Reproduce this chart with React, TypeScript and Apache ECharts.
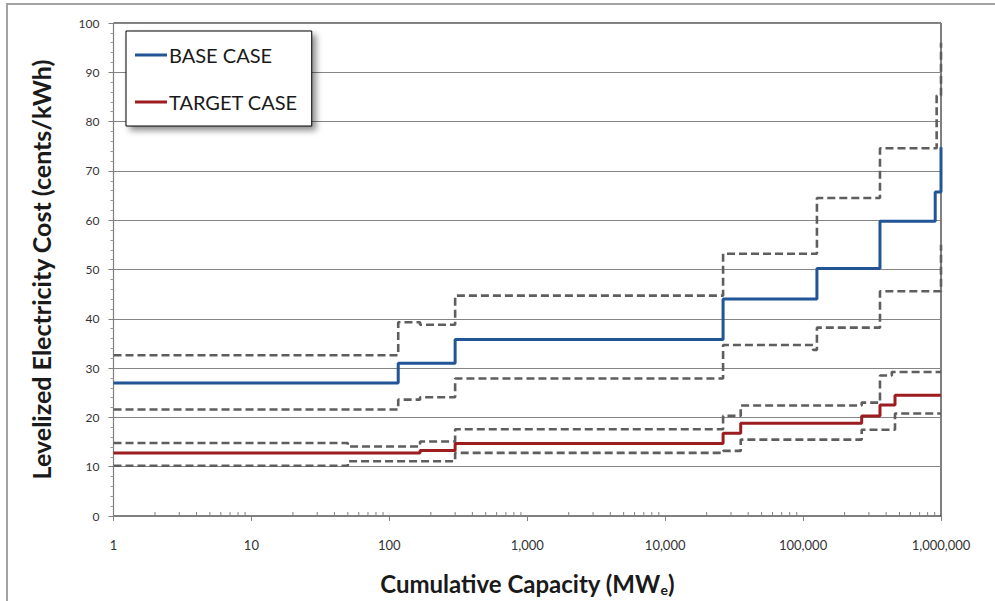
import React, { useEffect, useRef } from "react";
import * as echarts from "echarts";

// Step breakpoints (cumulative MWe) and levelized cost (cents/kWh) for each curve
const baseX = [1, 116, 300, 26300, 126000, 361000, 908000, 1000000];
const baseY = [27, 31, 35.8, 44, 50.2, 59.8, 65.7, 74.8];

const baseUpperX = [1, 116, 167, 300, 26300, 126000, 361000, 930000, 1000000];
const baseUpperY = [32.6, 39.3, 38.8, 44.7, 53.2, 64.5, 74.6, 85.3, 96];

const baseLowerX = [1, 116, 167, 300, 26300, 118000, 126000, 361000, 1000000];
const baseLowerY = [21.6, 23.6, 24.1, 27.9, 34.7, 33.7, 38.2, 45.6, 55];

const targetX = [1, 167, 300, 26300, 35300, 266000, 361000, 464000, 1000000];
const targetY = [12.8, 13.3, 14.7, 16.8, 18.8, 20.3, 22.5, 24.5, 24.5];

const targetUpperX = [1, 50, 167, 300, 26300, 35300, 266000, 361000, 440000, 1000000];
const targetUpperY = [14.8, 14.1, 15.1, 17.6, 20.3, 22.4, 23.0, 28.5, 29.2, 29.2];

const targetLowerX = [1, 50, 300, 26300, 35300, 266000, 464000, 1000000];
const targetLowerY = [10.2, 11.1, 12.8, 13.2, 15.5, 17.5, 20.8, 20.8];

// Log-axis minor tick positions (2..9 within each decade)
const decadeStarts = [1, 10, 100, 1000, 10000, 100000];
const minorSteps = [2, 3, 4, 5, 6, 7, 8, 9];

const legendNames = ["BASE CASE", "TARGET CASE"];

const FONT = "Lato, 'Open Sans', sans-serif";
const BLUE = "#215596";
const RED = "#9c1c1f";
const DASH = "#5e5e5e";

const pairs = (xs: number[], ys: number[]) => xs.map((x, i) => [x, ys[i]]);

export default function App() {
  const ref = useRef<HTMLDivElement>(null);

  useEffect(() => {
    if (!ref.current) return;
    const chart = echarts.init(ref.current, undefined, { renderer: "svg" });

    const dashed = (name: string, xs: number[], ys: number[]) => ({
      name,
      type: "line",
      step: "end",
      data: pairs(xs, ys),
      showSymbol: false,
      symbol: "none",
      silent: true,
      z: 2,
      lineStyle: { color: DASH, width: 2.6, type: [8, 4] },
    });

    const solid = (name: string, xs: number[], ys: number[], color: string) => ({
      name,
      type: "line",
      step: "end",
      data: pairs(xs, ys),
      showSymbol: false,
      symbol: "none",
      z: 3,
      color,
      lineStyle: { color, width: 3 },
    });

    const minorTicks = decadeStarts.flatMap((d) => minorSteps.map((k) => [k * d, 0]));

    chart.setOption({
      animation: false,
      backgroundColor: "#ffffff",
      textStyle: { fontFamily: FONT },
      grid: {
        left: 113.5,
        right: 54,
        top: 23,
        bottom: 82,
        show: true,
        borderColor: "#000000",
        borderWidth: 1,
      },
      graphic: [
        {
          type: "rect",
          silent: true,
          z: -10,
          shape: { x: 7, y: 4, width: 1200, height: 800 },
          style: { fill: "none", stroke: "#a3a3a3", lineWidth: 2 },
        },
      ],
      legend: {
        data: legendNames,
        orient: "vertical",
        left: 126,
        top: 31,
        padding: [12, 14, 12, 9],
        itemGap: 23,
        itemWidth: 32,
        itemHeight: 3,
        icon: "rect",
        backgroundColor: "#ffffff",
        borderColor: "#000000",
        borderWidth: 1,
        borderRadius: 0,
        shadowColor: "rgba(0,0,0,0.45)",
        shadowBlur: 6,
        shadowOffsetX: 4,
        shadowOffsetY: 4,
        textStyle: {
          fontFamily: FONT,
          fontSize: 20,
          lineHeight: 24,
          color: "#1a1a1a",
          padding: [0, 0, 0, -3],
        },
      },
      xAxis: {
        type: "log",
        logBase: 10,
        min: 1,
        max: 1000000,
        name: "{a|Cumulative Capacity (MW}{s|e}{a|)}",
        nameLocation: "middle",
        nameGap: 54,
        nameTextStyle: {
          rich: {
            a: { fontFamily: FONT, fontSize: 24, fontWeight: "bold", color: "#1a1a1a" },
            s: {
              fontFamily: FONT,
              fontSize: 14,
              fontWeight: "bold",
              color: "#1a1a1a",
              padding: [12, 0, 0, 0],
            },
          },
        },
        axisLine: { show: true, onZero: false, lineStyle: { color: "#7f7f7f", width: 1.2 } },
        axisTick: { show: true, length: 5, lineStyle: { color: "#7f7f7f" } },
        splitLine: { show: false },
        axisLabel: {
          margin: 22,
          fontSize: 13,
          color: "#333333",
          fontFamily: FONT,
          formatter: (v: number) => Math.round(v).toLocaleString("en-US"),
        },
      },
      yAxis: {
        type: "value",
        min: 0,
        max: 100,
        interval: 10,
        name: "Levelized Electricity Cost (cents/kWh)",
        nameLocation: "middle",
        nameGap: 60,
        nameRotate: 90,
        nameTextStyle: { fontFamily: FONT, fontSize: 25, fontWeight: "bold", color: "#1a1a1a" },
        axisLine: { show: true, lineStyle: { color: "#7f7f7f", width: 1.2 } },
        axisTick: { show: true, length: 5, lineStyle: { color: "#7f7f7f" } },
        minorTick: { show: true, splitNumber: 5, length: 3, lineStyle: { color: "#9a9a9a" } },
        splitLine: { show: true, lineStyle: { color: "#858585", width: 1 } },
        axisLabel: { margin: 14, fontSize: 12, color: "#333333", fontFamily: FONT },
      },
      series: [
        dashed("base-upper", baseUpperX, baseUpperY),
        dashed("base-lower", baseLowerX, baseLowerY),
        dashed("target-upper", targetUpperX, targetUpperY),
        dashed("target-lower", targetLowerX, targetLowerY),
        solid("BASE CASE", baseX, baseY, BLUE),
        solid("TARGET CASE", targetX, targetY, RED),
        {
          name: "minor-ticks",
          type: "custom",
          silent: true,
          clip: false,
          z: 1,
          data: minorTicks,
          encode: { x: 0, y: 1 },
          renderItem: (_params: any, api: any) => {
            const p = api.coord([api.value(0), 0]);
            return {
              type: "line",
              shape: { x1: p[0], y1: p[1], x2: p[0], y2: p[1] - 4 },
              style: { stroke: "#7f7f7f", lineWidth: 1 },
            };
          },
        },
      ],
    });

    return () => chart.dispose();
  }, []);

  return (
    <div
      ref={ref}
      style={{ position: "fixed", left: 0, top: 0, width: 995, height: 601, background: "#fff" }}
    />
  );
}
